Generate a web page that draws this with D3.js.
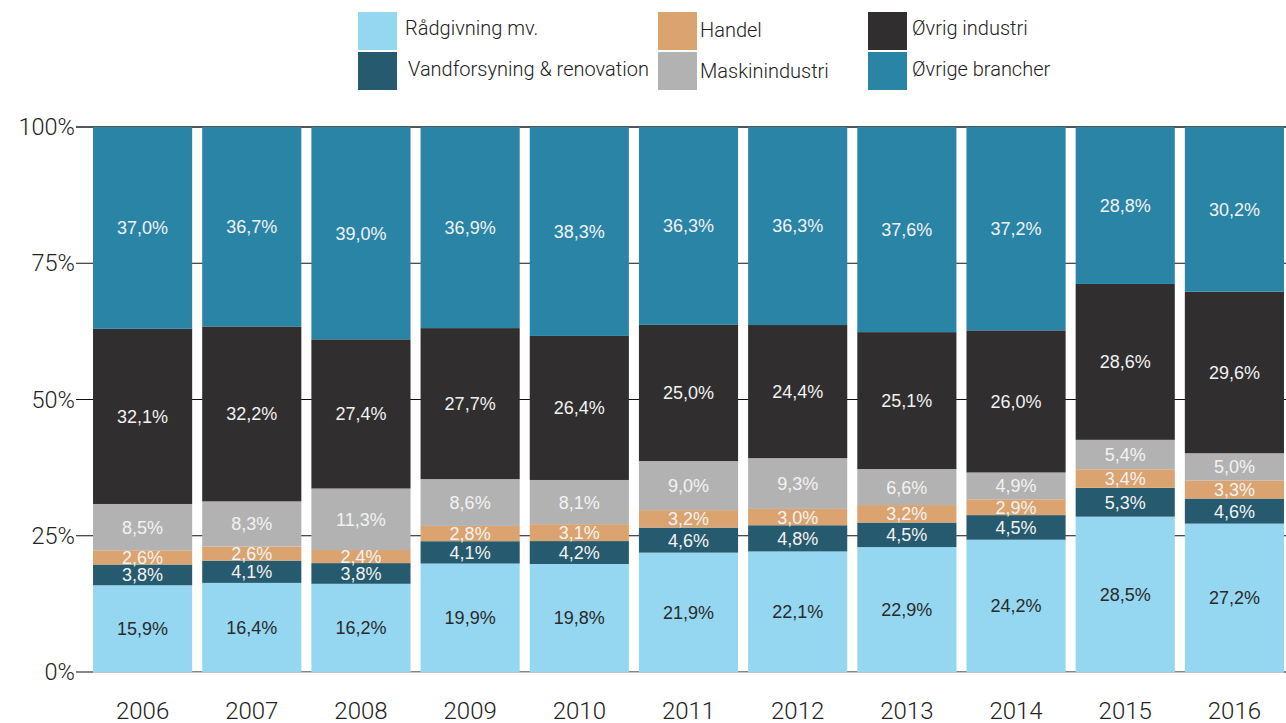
<!DOCTYPE html>
<html lang="da">
<head>
<meta charset="UTF-8">
<title>Brancher</title>
<script src="https://d3js.org/d3.v7.min.js"></script>
<style>
  body { margin: 0; background: #fff; }
  svg { display: block; }
  .tick-label { font-family: "Roboto", sans-serif; font-weight: 300; font-size: 23.5px; fill: #222; }
  .year-label { font-family: "Roboto", sans-serif; font-weight: 300; font-size: 24px; fill: #222; }
  .legend text { font-family: "Roboto", sans-serif; font-weight: 300; font-size: 20px; fill: #222; }
  .val { font-family: "Liberation Sans", Arial, sans-serif; font-size: 18px; text-anchor: middle; }
</style>
</head>
<body>
<svg width="1286" height="723"></svg>
<script>
// data
const years = ["2006","2007","2008","2009","2010","2011","2012","2013","2014","2015","2016"];
const seriesNames = ["Rådgivning mv.", "Vandforsyning & renovation", "Handel", "Maskinindustri", "Øvrig industri", "Øvrige brancher"];
const raadgivning = [15.9, 16.4, 16.2, 19.9, 19.8, 21.9, 22.1, 22.9, 24.2, 28.5, 27.2];
const vandforsyning = [3.8, 4.1, 3.8, 4.1, 4.2, 4.6, 4.8, 4.5, 4.5, 5.3, 4.6];
const handel = [2.6, 2.6, 2.4, 2.8, 3.1, 3.2, 3.0, 3.2, 2.9, 3.4, 3.3];
const maskin = [8.5, 8.3, 11.3, 8.6, 8.1, 9.0, 9.3, 6.6, 4.9, 5.4, 5.0];
const oevrigInd = [32.1, 32.2, 27.4, 27.7, 26.4, 25.0, 24.4, 25.1, 26.0, 28.6, 29.6];
const oevrigeBr = [37.0, 36.7, 39.0, 36.9, 38.3, 36.3, 36.3, 37.6, 37.2, 28.8, 30.2];
const yTicks = [0, 0.25, 0.5, 0.75, 1];

const colors = ["#95d7f1", "#265a6e", "#daa36f", "#b2b2b2", "#302e2f", "#2a84a6"];
const labelColors = ["#2a2a2a", "#f2f2f2", "#f2f2f2", "#f2f2f2", "#f2f2f2", "#f2f2f2"];

const allSeries = [raadgivning, vandforsyning, handel, maskin, oevrigInd, oevrigeBr];
const rows = years.map((y, i) => {
  const r = { year: y };
  seriesNames.forEach((s, k) => r[s] = allSeries[k][i]);
  return r;
});

const svg = d3.select("svg");

const x = d3.scaleBand().domain(years).range([88, 1289]).paddingInner(0.092).paddingOuter(0.046);
const y = d3.scaleLinear().domain([0, 1]).range([672, 127]);

// gridlines
svg.append("g").selectAll("line")
  .data(yTicks)
  .enter().append("line")
  .attr("x1", 76).attr("x2", 1286)
  .attr("y1", d => y(d)).attr("y2", d => y(d))
  .style("stroke", d => d === 1 ? "#555" : "#111")
  .style("stroke-width", d => d === 1 ? 2 : 1.2);

svg.append("g").selectAll("text")
  .data(yTicks)
  .enter().append("text")
  .attr("class", "tick-label")
  .attr("x", 75).attr("y", d => y(d))
  .attr("dy", "0.35em")
  .attr("text-anchor", "end")
  .text(d => Math.round(d * 100) + "%");

// stacked bars
const stack = d3.stack().keys(seriesNames).offset(d3.stackOffsetExpand);
const layers = stack(rows);

const layer = svg.append("g").selectAll("g")
  .data(layers)
  .enter().append("g")
  .attr("fill", (d, i) => colors[i]);

layer.selectAll("rect")
  .data(d => d)
  .enter().append("rect")
  .attr("x", d => x(d.data.year))
  .attr("width", x.bandwidth())
  .attr("y", d => y(d[1]))
  .attr("height", d => y(d[0]) - y(d[1]));

// baseline under bars
svg.append("line")
  .attr("x1", x(years[0])).attr("x2", x(years[years.length - 1]) + x.bandwidth())
  .attr("y1", y(0) + 0.5).attr("y2", y(0) + 0.5)
  .style("stroke", "#c4c4c4").style("stroke-width", 1);

// value labels
layers.forEach((l, i) => {
  svg.append("g").selectAll("text")
    .data(l)
    .enter().append("text")
    .attr("class", "val")
    .attr("x", d => x(d.data.year) + x.bandwidth() / 2)
    .attr("y", d => (y(d[0]) + y(d[1])) / 2)
    .attr("dy", "0.36em")
    .style("fill", labelColors[i])
    .text(d => d.data[l.key].toFixed(1).replace(".", ",") + "%");
});

// year labels
svg.append("g").selectAll("text")
  .data(years)
  .enter().append("text")
  .attr("class", "year-label")
  .attr("x", d => x(d) + x.bandwidth() / 2)
  .attr("y", 719)
  .attr("text-anchor", "middle")
  .text(d => d);

// legend
const legendPos = [
  { sx: 358, sy: 12, tx: 405, ty: 35 },
  { sx: 358, sy: 52, tx: 408, ty: 76 },
  { sx: 658, sy: 12, tx: 700, ty: 37 },
  { sx: 658, sy: 52, tx: 700, ty: 78 },
  { sx: 868, sy: 12, tx: 912, ty: 35 },
  { sx: 868, sy: 52, tx: 912, ty: 76 }
];
const legend = svg.append("g").attr("class", "legend");
seriesNames.forEach((s, i) => {
  const p = legendPos[i];
  legend.append("rect").attr("x", p.sx).attr("y", p.sy).attr("width", 39).attr("height", 38).attr("fill", colors[i]);
  legend.append("text").attr("x", p.tx).attr("y", p.ty).text(s);
});
</script>
</body>
</html>
